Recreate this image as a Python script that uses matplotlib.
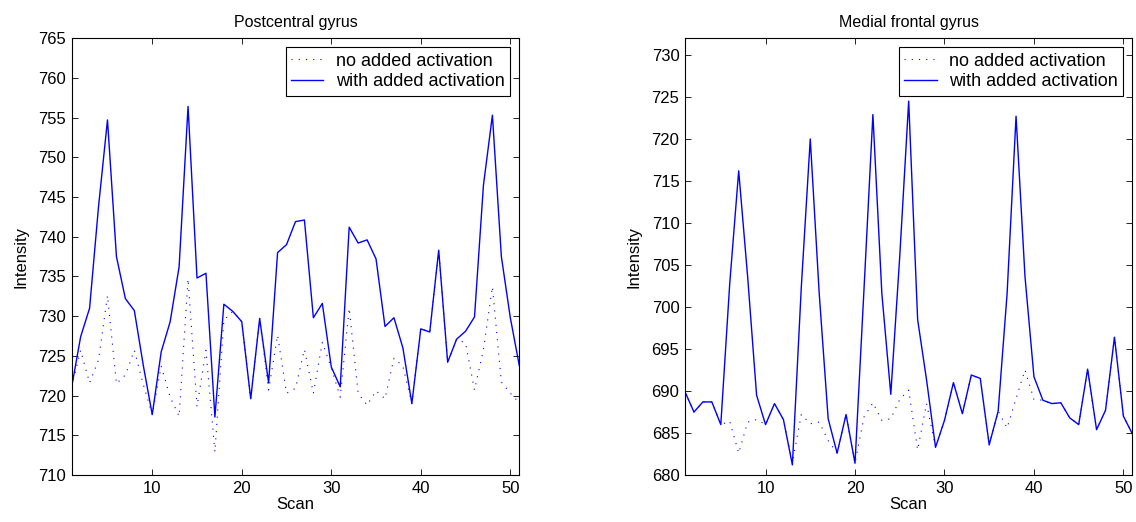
import matplotlib
matplotlib.use('Agg')
import matplotlib.pyplot as plt

plt.rcParams['font.family'] = ['Liberation Sans', 'DejaVu Sans']
plt.rcParams['font.size'] = 12
plt.rcParams['lines.scale_dashes'] = False

scans = list(range(1, 52))

# Postcentral gyrus
post_with = [721.1, 727.4, 731.0, 743.8, 754.7, 737.5, 732.2, 730.7, 723.8, 717.6,
             725.5, 729.3, 736.2, 756.4, 734.8, 735.4, 717.3, 731.5, 730.6, 729.3,
             719.6, 729.7, 721.6, 738.0, 739.0, 741.9, 742.1, 729.8, 731.6, 723.6,
             721.1, 741.2, 739.2, 739.6, 737.2, 728.7, 729.8, 726.0, 719.0, 728.4,
             728.0, 738.3, 724.2, 727.1, 728.1, 729.9, 746.5, 755.3, 737.5, 729.8,
             723.8]
post_none = [721.1, 725.7, 721.6, 724.5, 732.6, 721.5, 722.6, 725.7, 721.4, 717.6,
             723.7, 719.8, 717.4, 734.7, 718.6, 725.7, 712.9, 729.5, 730.6, 729.3,
             719.6, 729.7, 720.7, 727.6, 720.3, 720.9, 725.8, 720.3, 726.7, 723.5,
             719.8, 731.0, 720.3, 718.8, 720.6, 719.6, 724.7, 723.7, 719.0, 728.4,
             728.0, 738.3, 724.2, 727.1, 726.6, 720.7, 725.8, 733.7, 721.7, 720.3,
             719.1]

# Medial frontal gyrus
med_with = [689.9, 687.5, 688.7, 688.7, 686.0, 702.8, 716.2, 703.6, 689.5, 686.0,
            688.5, 686.6, 681.2, 702.4, 720.0, 701.6, 686.7, 682.6, 687.2, 681.4,
            702.0, 722.9, 701.6, 689.6, 706.0, 724.5, 698.5, 691.3, 683.3, 686.5,
            691.0, 687.3, 691.9, 691.5, 683.6, 687.6, 701.6, 722.7, 703.6, 691.7,
            688.9, 688.5, 688.6, 686.8, 686.0, 692.6, 685.4, 687.7, 696.4, 687.0,
            684.9]
med_none = [689.9, 687.5, 688.7, 688.7, 686.0, 686.4, 682.6, 686.3, 686.6, 686.0,
            688.5, 686.6, 681.5, 687.2, 686.1, 686.3, 684.1, 682.6, 687.2, 681.4,
            686.9, 688.6, 686.5, 686.7, 689.0, 690.1, 683.0, 688.5, 683.3, 686.5,
            691.0, 687.3, 691.9, 691.5, 683.6, 687.6, 685.6, 689.1, 692.5, 689.0,
            688.9, 688.5, 688.6, 686.8, 686.0, 692.6, 685.4, 687.7, 696.4, 687.0,
            684.9]

panels = [
    ('Postcentral gyrus', post_none, post_with, (710, 765), range(710, 766, 5),
     [0.0631, 0.090, 0.3940, 0.837]),
    ('Medial frontal gyrus', med_none, med_with, (680, 732), range(680, 731, 5),
     [0.6030, 0.090, 0.3938, 0.837]),
]

fig = plt.figure(figsize=(11.36, 5.22), dpi=100)

for title, none, withact, ylim, yticks, rect in panels:
    ax = fig.add_axes(rect)
    ax.plot(scans, none, color='blue', linewidth=0.8, linestyle=(0, (0.8, 4.4)),
            label='no added activation')
    ax.plot(scans, withact, color='blue', linewidth=1.0, label='with added activation')
    ax.set_xlim(1, 51)
    ax.set_ylim(*ylim)
    ax.set_xticks([10, 20, 30, 40, 50])
    ax.set_yticks(list(yticks))
    ax.tick_params(direction='in', top=True, right=True, length=4, width=0.6,
                   labelsize=12, pad=4)
    for sp in ax.spines.values():
        sp.set_linewidth(0.8)
    ax.set_title(title, fontsize=11.5, pad=8)
    ax.set_xlabel('Scan', fontsize=12, labelpad=1)
    ax.set_ylabel('Intensity', fontsize=12, labelpad=7)
    leg = ax.legend(loc='upper right', fontsize=13, fancybox=False, framealpha=1,
                    edgecolor='black', handlelength=1.8, borderaxespad=0.5,
                    borderpad=0.3, labelspacing=0.2, handletextpad=0.7)
    leg.get_frame().set_linewidth(0.8)

fig.savefig('out.png', dpi=100)
